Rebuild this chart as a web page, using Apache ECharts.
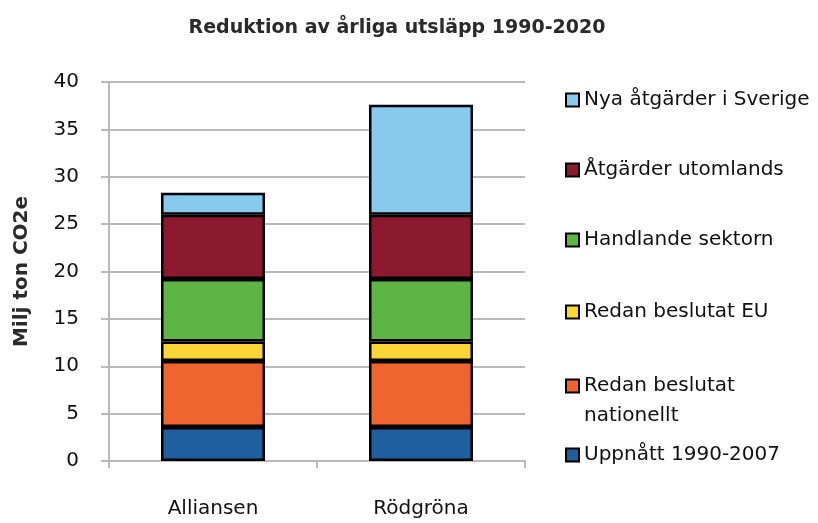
<!DOCTYPE html>
<html>
<head>
<meta charset="utf-8">
<script src="https://cdn.jsdelivr.net/npm/echarts@6/dist/echarts.min.js"></script>
<style>
  html, body { margin: 0; padding: 0; background: #fff; }
  #chart { width: 818px; height: 523px; }
</style>
</head>
<body>
<div id="chart"></div>
<script>
// data
var categories = ['Alliansen', 'Rödgröna'];
var seriesNames = ['Uppnått 1990-2007', 'Redan beslutat nationellt', 'Redan beslutat EU',
                   'Handlande sektorn', 'Åtgärder utomlands', 'Nya åtgärder i Sverige'];
var uppnatt = [3.6, 3.6];
var nationellt = [6.95, 6.95];
var beslutatEU = [2.05, 2.05];
var handlande = [6.6, 6.6];
var utomlands = [6.8, 6.8];
var nyaSverige = [2.3, 11.6];
var colors = ['#1f5fa0', '#f0652f', '#fdd535', '#5fb446', '#8b1a2e', '#88caee'];

var FONT = 'DejaVu Sans';
var values = [uppnatt, nationellt, beslutatEU, handlande, utomlands, nyaSverige];

var series = values.map(function (v, i) {
  return {
    name: seriesNames[i],
    type: 'bar',
    stack: 'total',
    barWidth: '50%',
    data: v,
    itemStyle: { color: colors[i], borderColor: '#000', borderWidth: 2.5 }
  };
});

// one legend per item so the spacing matches the original (bottom series first)
var legendTops = [445, 341, 302, 230, 160, 90];
var legends = seriesNames.map(function (n, i) {
  var lg = {
    orient: 'vertical',
    left: 565,
    top: legendTops[i],
    padding: 0,
    data: [n],
    itemWidth: 13,
    itemHeight: 13,
    itemGap: 6,
    icon: 'rect',
    textStyle: { fontFamily: FONT, fontSize: 20, color: '#111' }
  };
  if (i === 1) {
    // three lines centred on the icon: blank, first line, second line
    lg.formatter = function () { return ' \nRedan beslutat\nnationellt'; };
    lg.textStyle.lineHeight = 30;
  }
  return lg;
});

var chart = echarts.init(document.getElementById('chart'));
chart.setOption({
  animation: false,
  color: colors,
  title: {
    text: 'Reduktion av årliga utsläpp 1990-2020',
    left: 392,
    textAlign: 'center',
    top: 14,
    textStyle: { fontFamily: FONT, fontSize: 19, fontWeight: 'bold', color: '#2a2a2a' }
  },
  legend: legends,
  grid: { left: 109, right: 293, top: 82, bottom: 62 },
  xAxis: {
    type: 'category',
    data: categories,
    axisLine: { lineStyle: { color: '#b8b9bb', width: 2 } },
    axisTick: { show: true, length: 7, lineStyle: { color: '#b8b9bb', width: 2 } },
    axisLabel: { fontFamily: FONT, fontSize: 20, color: '#111', margin: 38 }
  },
  yAxis: {
    type: 'value',
    min: 0,
    max: 40,
    interval: 5,
    name: 'Milj ton CO2e',
    nameLocation: 'middle',
    nameGap: 77,
    nameTextStyle: { fontFamily: FONT, fontSize: 20, fontWeight: 'bold', color: '#2a2a2a' },
    axisLine: { show: true, lineStyle: { color: '#b8b9bb', width: 2 } },
    axisTick: { show: true, length: 8, lineStyle: { color: '#b8b9bb', width: 2 } },
    splitLine: { lineStyle: { color: '#b8b9bb', width: 2 } },
    axisLabel: { fontFamily: FONT, fontSize: 20, color: '#111', margin: 30 }
  },
  series: series
});
</script>
</body>
</html>
